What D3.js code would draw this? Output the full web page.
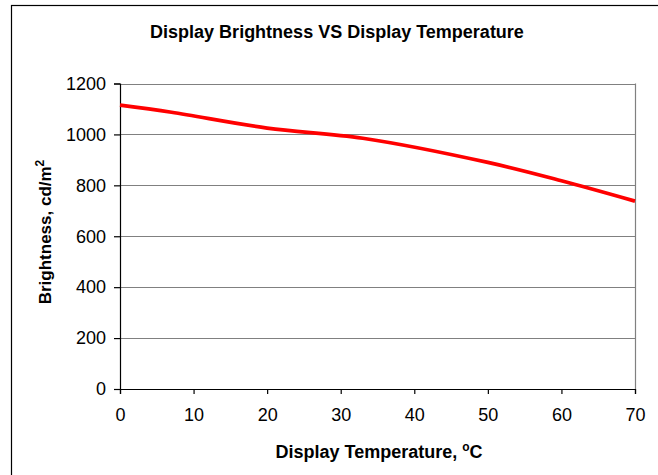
<!DOCTYPE html>
<html>
<head>
<meta charset="utf-8">
<script src="https://cdn.jsdelivr.net/npm/d3@7"></script>
<style>
  html, body { margin: 0; padding: 0; background: #fff; }
  svg { display: block; font-family: "Liberation Sans", Arial, sans-serif; }
</style>
</head>
<body>
<svg id="chart" width="658" height="475"></svg>
<script>
const temperatures = [0, 7, 20, 33, 50, 60, 70];
const brightness = [1115, 1087, 1025, 985, 890, 818, 738];
const xTicks = [0, 10, 20, 30, 40, 50, 60, 70];
const yTicks = [0, 200, 400, 600, 800, 1000, 1200];
const title = "Display Brightness VS Display Temperature";

(function () {
const svg = d3.select("#chart");
const pLeft = 120, pRight = 635, pTop = 83.5, pBottom = 389;

// outer frame (extends past right/bottom edges)
svg.append("rect").attr("x", 11.5).attr("y", 5.5).attr("width", 700).attr("height", 520)
  .attr("fill", "#fff").attr("stroke", "#000").attr("stroke-width", 1.2);

const x = d3.scaleLinear().domain([0, 70]).range([pLeft, pRight]);
const y = d3.scaleLinear().domain([0, 1200]).range([pBottom, pTop]);

// gridlines
svg.append("g").selectAll("line").data(yTicks.filter(d => d > 0)).join("line")
  .attr("x1", pLeft).attr("x2", pRight)
  .attr("y1", d => Math.round(y(d)) + 0.5).attr("y2", d => Math.round(y(d)) + 0.5)
  .attr("stroke", "#808080").attr("stroke-width", 1.2);
// right border
svg.append("line").attr("x1", pRight + 0.5).attr("x2", pRight + 0.5)
  .attr("y1", pTop).attr("y2", pBottom).attr("stroke", "#808080").attr("stroke-width", 1.2);

// axes
const yAxis = d3.axisLeft(y).tickValues(yTicks).tickFormat(d3.format("d")).tickSize(6).tickPadding(8);
const xAxis = d3.axisBottom(x).tickValues(xTicks).tickFormat(d3.format("d")).tickSize(5).tickPadding(14);

const gy = svg.append("g").attr("transform", `translate(${pLeft},0)`).call(yAxis);
const gx = svg.append("g").attr("transform", `translate(0,${pBottom})`).call(xAxis);
[gx, gy].forEach(g => {
  g.select(".domain").attr("stroke", "#000").attr("stroke-width", 1.2);
  g.selectAll(".tick line").attr("stroke", "#000").attr("stroke-width", 1.2);
  g.selectAll(".tick text").attr("fill", "#000")
    .style("font-size", "18px").style("font-family", "'Liberation Sans', Arial, sans-serif");
});

// line
const line = d3.line().x((d, i) => x(temperatures[i])).y(d => y(d)).curve(d3.curveCatmullRom);
svg.append("path").datum(brightness).attr("d", line)
  .attr("fill", "none").attr("stroke", "#ff0000").attr("stroke-width", 3.7);

// title
svg.append("text").attr("x", 337).attr("y", 38).attr("text-anchor", "middle")
  .style("font-weight", "bold").style("font-size", "18px").text(title);

// x axis title
const xt = svg.append("text").attr("x", 379).attr("y", 458).attr("text-anchor", "middle")
  .style("font-weight", "bold").style("font-size", "18px");
xt.append("tspan").text("Display Temperature, ");
xt.append("tspan").attr("dy", -7).style("font-size", "12px").text("o");
xt.append("tspan").attr("dy", 7).text("C");

// y axis title
const yt = svg.append("text").attr("transform", "translate(51,232) rotate(-90)")
  .attr("text-anchor", "middle").style("font-weight", "bold").style("font-size", "17px");
yt.append("tspan").text("Brightness, cd/m");
yt.append("tspan").attr("dy", -7).style("font-size", "12px").text("2");
})();
</script>
</body>
</html>
